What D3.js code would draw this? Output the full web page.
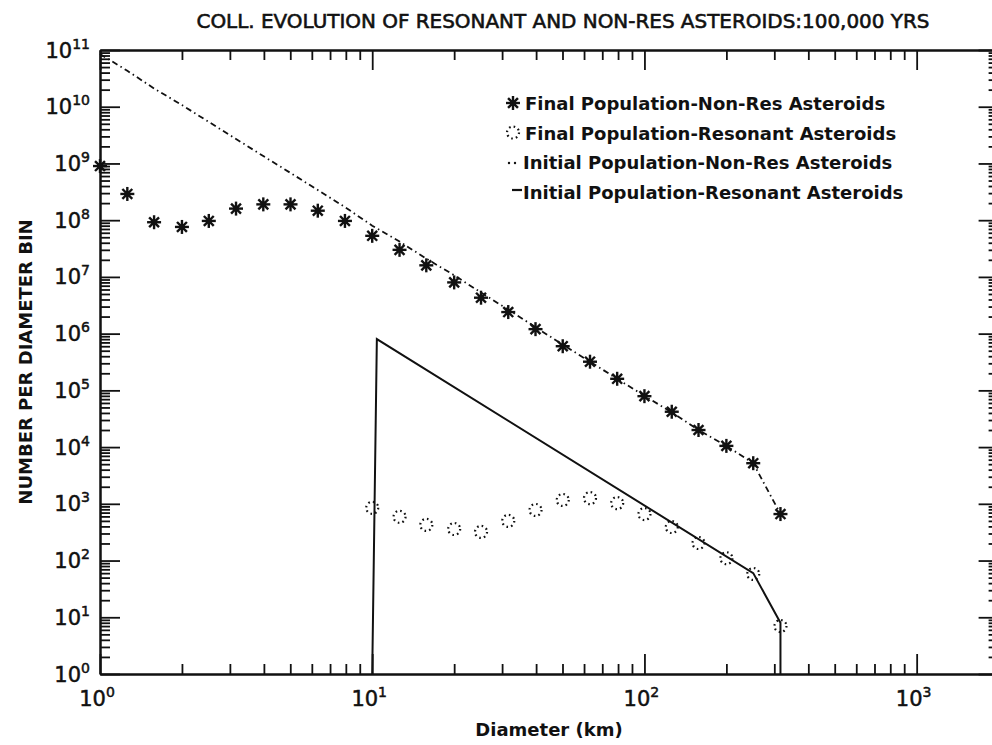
<!DOCTYPE html>
<html>
<head>
<meta charset="UTF-8" />
<style>
    body { margin: 0; background: #fff; }
    text { font-family: "DejaVu Sans", sans-serif; fill: #111; }
</style>
</head>
<body>
<script src="https://d3js.org/d3.v7.min.js"></script>
<script>
    // diameter bins (km), one bin per 0.1 decade
    const diameters = [1, 1.26, 1.58, 2.0, 2.51, 3.16, 3.98, 5.01, 6.31, 7.94,
        10, 12.6, 15.8, 20.0, 25.1, 31.6, 39.8, 50.1, 63.1, 79.4,
        100, 126, 158, 200, 251, 316];

    // final population, non-resonant asteroids (asterisks)
    const nonResFinal = [9e8, 2.9e8, 9.2e7, 7.6e7, 9.7e7, 1.6e8, 1.9e8, 1.9e8, 1.47e8, 9.7e7,
        5.3e7, 3.0e7, 1.6e7, 8.0e6, 4.3e6, 2.4e6, 1.2e6, 6.0e5, 3.2e5, 1.6e5,
        7.9e4, 4.2e4, 2.0e4, 1.05e4, 5.2e3, 6.6e2];

    // initial population, non-resonant asteroids (dash-dot line)
    const nonResInitial = [8.5e10, 4.3e10, 2.1e10, 1.07e10, 5.4e9, 2.7e9, 1.35e9, 6.8e8, 3.4e8, 1.7e8,
        8.0e7, 4.2e7, 2.1e7, 1.07e7, 5.3e6, 2.65e6, 1.3e6, 6.4e5, 3.2e5, 1.6e5,
        8.0e4, 4.1e4, 2.0e4, 1.05e4, 5.2e3, 6.6e2];

    // final population, resonant asteroids (dotted circles)
    const resDiameters = [10, 12.6, 15.8, 20.0, 25.1, 31.6, 39.8, 50.1, 63.1, 79.4,
        100, 126, 158, 200, 251, 316];
    const resFinal = [850, 590, 425, 360, 320, 500, 780, 1170, 1260, 1030,
        660, 390, 204, 110, 58, 7.0];

    // initial population, resonant asteroids (solid line, its vertices)
    const resInitialD = [10, 10.4, 251, 316, 316];
    const resInitialN = [1, 8.0e5, 60, 8, 1];

    const legendLabels = [
        "Final Population-Non-Res Asteroids",
        "Final Population-Resonant Asteroids",
        "Initial Population-Non-Res Asteroids",
        "Initial Population-Resonant Asteroids"
    ];

    const width = 992, height = 745;
    const svg = d3.select("body").append("svg")
        .attr("width", width)
        .attr("height", height);

    const x = d3.scaleLog().domain([1, 2000]).range([100, 998.6]);
    const y = d3.scaleLog().domain([1, 1e11]).range([674, 50]);

    // tick positions
    const majorX = [1, 10, 100, 1000];
    const minorX = [];
    majorX.forEach(d => { for (let m = 2; m <= 9; m++) if (d * m <= 2000) minorX.push(d * m); });
    const majorY = d3.range(0, 12).map(e => Math.pow(10, e));
    const minorY = [];
    majorY.slice(0, 11).forEach(d => { for (let m = 2; m <= 9; m++) minorY.push(d * m); });

    function styleAxis(g) {
        g.selectAll("path").attr("stroke", "#111").attr("stroke-width", 2);
        g.selectAll("line").attr("stroke", "#111").attr("stroke-width", 1.8);
    }

    // the four sides, ticks pointing inward
    const sides = [
        { t: "translate(0,674)", ax: d3.axisTop(x), maj: majorX, min: minorX },
        { t: "translate(0,50)", ax: d3.axisBottom(x), maj: majorX, min: minorX },
        { t: "translate(100,0)", ax: d3.axisRight(y), maj: majorY, min: minorY },
        { t: "translate(998.6,0)", ax: d3.axisLeft(y), maj: majorY, min: minorY }
    ];
    sides.forEach(s => {
        svg.append("g").attr("transform", s.t)
            .call(s.ax.tickValues(s.min).tickSize(10).tickSizeOuter(0).tickFormat(""))
            .call(styleAxis);
        svg.append("g").attr("transform", s.t)
            .call(s.ax.tickValues(s.maj).tickSize(20).tickSizeOuter(0).tickFormat(""))
            .call(styleAxis);
    });

    // tick labels 10^n
    function powLabel(sel, e) {
        sel.append("tspan").text("10");
        sel.append("tspan").attr("dy", -9).attr("font-size", 14).text(e);
    }
    majorX.forEach(v => {
        svg.append("text")
            .attr("x", x(v) - 3).attr("y", 706)
            .attr("text-anchor", "middle")
            .attr("font-size", 21)
            .attr("stroke", "#111").attr("stroke-width", 0.5)
            .call(powLabel, Math.round(Math.log10(v)));
    });
    majorY.forEach(v => {
        svg.append("text")
            .attr("x", 90).attr("y", y(v) + 7.5)
            .attr("text-anchor", "end")
            .attr("font-size", 21)
            .attr("stroke", "#111").attr("stroke-width", 0.5)
            .call(powLabel, Math.round(Math.log10(v)));
    });

    // title and axis titles
    svg.append("text")
        .attr("x", 563).attr("y", 28)
        .attr("text-anchor", "middle")
        .attr("font-size", 20)
        .attr("stroke", "#111").attr("stroke-width", 0.6)
        .attr("textLength", 733).attr("lengthAdjust", "spacingAndGlyphs")
        .text("COLL. EVOLUTION OF RESONANT AND NON-RES ASTEROIDS:100,000 YRS");

    svg.append("text")
        .attr("x", 549).attr("y", 736)
        .attr("text-anchor", "middle")
        .attr("font-size", 18).attr("font-weight", "bold")
        .text("Diameter (km)");

    svg.append("text")
        .attr("transform", "translate(32,362) rotate(-90)")
        .attr("text-anchor", "middle")
        .attr("font-size", 18).attr("font-weight", "bold")
        .text("NUMBER PER DIAMETER BIN");

    // lines
    const line = d3.line().x(d => x(d[0])).y(d => y(d[1]));

    svg.append("path")
        .datum(diameters.map((d, i) => [d, nonResInitial[i]]))
        .attr("d", line)
        .attr("fill", "none").attr("stroke", "#111")
        .attr("stroke-width", 1.8)
        .attr("stroke-dasharray", "6,3.5,1.5,3.5");

    svg.append("path")
        .datum(resInitialD.map((d, i) => [d, resInitialN[i]]))
        .attr("d", line)
        .attr("fill", "none").attr("stroke", "#111")
        .attr("stroke-width", 2);

    // markers
    function asterisk(g) {
        [0, 45, 90, 135].forEach(a => {
            g.append("line")
                .attr("x1", -7).attr("x2", 7)
                .attr("transform", "rotate(" + a + ")")
                .attr("stroke", "#111").attr("stroke-width", 2.4);
        });
        g.append("circle").attr("r", 3).attr("fill", "#111");
    }
    function dottedCircle(g) {
        g.append("circle").attr("r", 6)
            .attr("fill", "none").attr("stroke", "#111")
            .attr("stroke-width", 2.2)
            .attr("stroke-dasharray", "1.6,3.1");
    }

    svg.append("g").selectAll("g")
        .data(diameters.map((d, i) => [d, nonResFinal[i]]))
        .join("g")
        .attr("transform", d => "translate(" + x(d[0]) + "," + y(d[1]) + ")")
        .each(function () { asterisk(d3.select(this)); });

    svg.append("g").selectAll("g")
        .data(resDiameters.map((d, i) => [d, resFinal[i]]))
        .join("g")
        .attr("transform", d => "translate(" + x(d[0]) + "," + y(d[1]) + ")")
        .each(function () { dottedCircle(d3.select(this)); });

    // legend
    const legend = svg.append("g");
    const rowY = [110, 139.5, 169, 198.5];
    legendLabels.forEach((lab, i) => {
        legend.append("text")
            .attr("x", i < 2 ? 525 : 523).attr("y", rowY[i])
            .attr("font-size", 18).attr("font-weight", "bold")
            .text(lab);
    });
    asterisk(legend.append("g").attr("transform", "translate(513,103)"));
    dottedCircle(legend.append("g").attr("transform", "translate(513,132.5)"));
    [509, 515].forEach(cx => legend.append("circle")
        .attr("cx", cx).attr("cy", 163).attr("r", 1.2).attr("fill", "#111"));
    legend.append("line")
        .attr("x1", 512).attr("x2", 522).attr("y1", 190).attr("y2", 190)
        .attr("stroke", "#111").attr("stroke-width", 2.2);
</script>
</body>
</html>
